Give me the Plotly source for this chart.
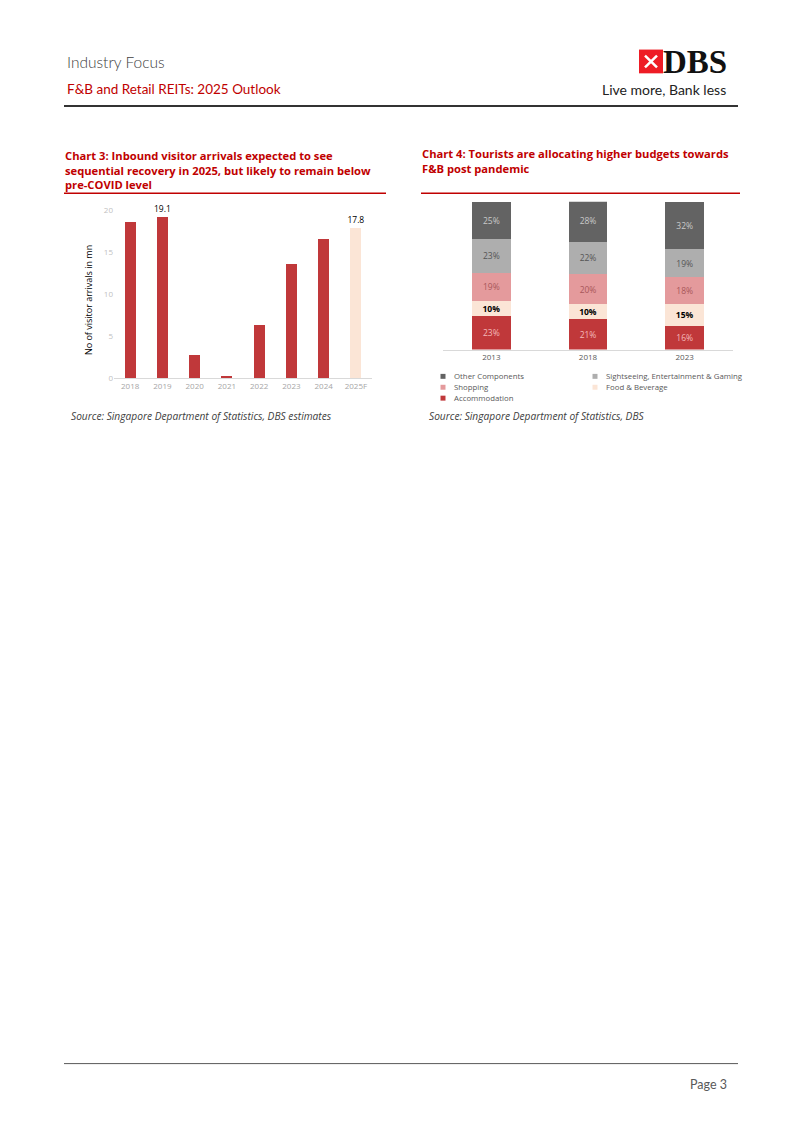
import plotly.graph_objects as go

W, H = 800, 1130

# Chart 3: inbound visitor arrivals (mn)
years = ["2018", "2019", "2020", "2021", "2022", "2023", "2024", "2025F"]
arrivals_mn = [18.5, 19.1, 2.7, 0.3, 6.3, 13.6, 16.5, 17.8]
labelled_years = ["2019", "2025F"]

# Chart 4: tourist expenditure split (%)
survey_years = ["2013", "2018", "2023"]
accommodation = [23, 21, 16]
food_beverage = [10, 10, 15]
shopping = [19, 20, 18]
sightseeing = [23, 22, 19]
other_components = [25, 28, 32]

RED = "#C0383A"
PEACH = "#FBE5D6"
FONT = "Open Sans"
HFONT = "Lato"


def px(x):
    return x / W


def py(y):
    return 1 - y / H


def line(x0, y0, x1, y1, color, width):
    return dict(type="line", xref="paper", yref="paper", x0=px(x0), x1=px(x1), y0=py(y0), y1=py(y1),
                line=dict(color=color, width=width))


def rect(x0, y0, x1, y1, color):
    return dict(type="rect", xref="paper", yref="paper", x0=px(x0), x1=px(x1), y0=py(y1), y1=py(y0),
                fillcolor=color, line_width=0)


def label(x, y, text, size, color, family=FONT, xanchor="left", weight="normal", **kw):
    return dict(xref="paper", yref="paper", x=px(x), y=py(y), text=text, xanchor=xanchor,
                yanchor="middle", showarrow=False,
                font=dict(family=family, size=size, color=color, weight=weight), **kw)


fig = go.Figure()

# --- chart 3
bar_colors = [PEACH if y.endswith("F") else RED for y in years]
bar_text = [f"{v:.1f}" if y in labelled_years else "" for y, v in zip(years, arrivals_mn)]
fig.add_trace(go.Bar(
    x=years, y=arrivals_mn, width=0.34, marker_color=bar_colors, marker_line_width=0,
    text=bar_text, textposition="outside", cliponaxis=False, constraintext="none",
    textfont=dict(family=FONT, size=8.5, color="#000000"),
    xaxis="x", yaxis="y", hoverinfo="x+y",
))

# --- chart 4 (bottom -> top)
series = [
    ("Accommodation", accommodation, RED, "#F4BABA", "%{text}"),
    ("Food & Beverage", food_beverage, PEACH, "#000000", "<b>%{text}</b>"),
    ("Shopping", shopping, "#E49A9C", "#A8575A", "%{text}"),
    ("Sightseeing, Entertainment & Gaming", sightseeing, "#AEAEAE", "#555555", "%{text}"),
    ("Other Components", other_components, "#636363", "#C9C9C9", "%{text}"),
]
for name, vals, col, tcol, tmpl in series:
    fig.add_trace(go.Bar(
        name=name, x=survey_years, y=vals, width=0.4, marker_color=col, marker_line_width=0,
        text=[f"{v}%" for v in vals], texttemplate=tmpl,
        textposition="inside", insidetextanchor="middle", textangle=0, constraintext="none",
        textfont=dict(family=FONT, size=8.5, color=tcol),
        xaxis="x2", yaxis="y2",
    ))

shapes = [
    line(64, 101, 738, 101, "#333333", 2),
    line(64, 1068, 738, 1068, "#595959", 1),
    line(64, 189, 386, 189, "#C00000", 1.5),
    line(421, 189, 740, 189, "#C00000", 1.5),
    # DBS logo mark
    rect(639, 44, 663, 68, "#EE1C25"),
    line(645, 50, 657, 62, "white", 2.5),
    line(645, 62, 657, 50, "white", 2.5),
]

annotations = [
    label(65, 57, "Industry Focus", 15.5, "#404040", family=HFONT, weight=300),
    label(65, 84, "F&B and Retail REITs: 2025 Outlook", 13.5, "#C00000", family=HFONT),
    label(729, 57, "<b>DBS</b>", 33, "#111111", family="Liberation Serif", xanchor="right"),
    label(728, 84, "Live more, Bank less", 14, "#222222", family=HFONT, xanchor="right"),
    label(63, 166, "<b>Chart 3: Inbound visitor arrivals expected to see<br>"
          "sequential recovery in 2025, but likely to remain below<br>pre-COVID level</b>",
          11.2, "#C00000", align="left"),
    label(420, 156.5, "<b>Chart 4: Tourists are allocating higher budgets towards<br>"
          "F&B post pandemic</b>", 11.2, "#C00000", align="left"),
    label(88, 297, "No of visitor arrivals in mn", 9, "#000000", xanchor="center", textangle=-90),
    label(69, 414, "<i>Source: Singapore Department of Statistics, DBS estimates</i>", 10.2, "#404040"),
    label(427, 414, "<i>Source: Singapore Department of Statistics, DBS</i>", 10.2, "#404040"),
    label(729, 1089, "Page 3", 12.5, "#595959", family=HFONT, xanchor="right"),
]

# manual legend (two columns, top-of-stack first)
legend_slots = [(443, 374), (595, 374), (443, 385), (595, 385), (443, 396)]
for (name, vals, col, tcol, tmpl), (lx, ly) in zip(reversed(series), legend_slots):
    shapes.append(rect(lx - 2.5, ly - 2.5, lx + 2.5, ly + 2.5, col))
    annotations.append(label(lx + 9, ly, name, 7.8, "#595959"))

fig.update_layout(
    width=W, height=H, margin=dict(l=0, r=0, t=0, b=0),
    paper_bgcolor="white", plot_bgcolor="white",
    showlegend=False, barmode="stack",
    font=dict(family=FONT),
    xaxis=dict(domain=[px(114), px(372)], anchor="y", type="category", showline=True,
               linecolor="#D9D9D9", linewidth=1, ticks="", showgrid=False, tickangle=0,
               tickfont=dict(family=FONT, size=8, color="#A6A6A6")),
    yaxis=dict(domain=[py(375.7), py(205.7)], anchor="x", range=[0, 20], tickvals=[0, 5, 10, 15, 20],
               showgrid=False, zeroline=False, showline=False, ticks="",
               tickfont=dict(family=FONT, size=8, color="#BFBFBF")),
    xaxis2=dict(domain=[px(443), px(733)], anchor="y2", type="category", showline=True,
                linecolor="#D9D9D9", linewidth=1, ticks="", showgrid=False, tickangle=0,
                tickfont=dict(family=FONT, size=8, color="#595959")),
    yaxis2=dict(domain=[py(347), py(197.7)], anchor="x2", range=[0, 100], visible=False),
    shapes=shapes, annotations=annotations,
)

# page body has an 8px default margin; drop it so the figure sits at the window origin
fig.write_html("out.html", config={"displayModeBar": False},
               post_script="document.body.style.margin='0';")
